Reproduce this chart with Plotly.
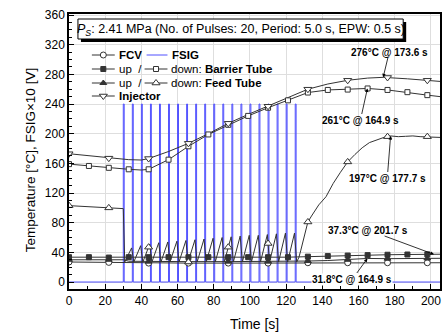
import plotly.graph_objects as go

FONT = "Liberation Sans, Arial, sans-serif"
LINE = "#333333"
BLUE = "#5050ff"

# ---------------- data ----------------
PULSE_TIMES = [30, 35, 40, 45, 50, 55, 60, 65, 70, 75, 80, 85, 90, 95, 100, 105, 110, 115, 120, 125]
PULSE_HIGH = 240          # FSIG x10
PULSE_WIDTH = 0.5
T_END = 205

fcv_t = [0, 22, 30, 44, 66, 88, 110, 132, 154, 176, 198, 205]
fcv_v = [27, 26.5, 26.5, 25.5, 25.5, 25.5, 25.5, 26, 26, 26, 26, 26]
fcv_mt = [0, 22, 44, 66, 88, 110, 132, 154, 176, 198]
fcv_mv = [27, 26.5, 25.5, 25.5, 25.5, 25.5, 26, 26, 26, 26]

bu_t = [0, 11, 22, 33, 44, 55, 66, 77, 88, 99, 110, 121, 132, 143, 154, 165, 176, 187, 198, 205]
bu_v = [33.5, 33.5, 33, 33.5, 33.5, 33.5, 33.5, 33.5, 33.5, 33.5, 33.5, 33.5, 34.2, 35, 35.7, 36.3, 36.8, 37.1, 37.3, 37.5]

bd_t = [0, 11, 22, 33, 40, 44, 55, 66, 77, 88, 99, 110, 121, 132, 143, 154, 165, 176, 187, 198, 205]
bd_v = [159, 156.5, 154, 152, 151, 152, 165, 183, 199, 212, 224, 235, 245, 255.5, 259, 259.5, 261, 259, 256, 252, 250]
bd_mt = [0, 11, 22, 33, 44, 55, 66, 77, 88, 99, 110, 121, 132, 143, 154, 165, 176, 187, 198]
bd_mv = [159, 156.5, 154, 152, 152, 165, 183, 199, 212, 224, 235, 245, 255.5, 259, 259.5, 261, 259, 256, 252]

fu_t = [0, 22, 30, 33, 44, 66, 88, 110, 125, 132, 143, 154, 165, 176, 187, 198, 205]
fu_v = [30, 30, 30, 28, 27.5, 27.5, 27.5, 27.5, 27.5, 28.3, 29, 30, 31.8, 31.5, 31.5, 31.8, 32]
fu_mt = [0, 22, 44, 66, 88, 110, 132, 154, 176, 198]
fu_mv = [30, 30, 27.5, 27.5, 27.5, 27.5, 28.3, 30, 31.5, 31.8]

inj_t = [0, 11, 22, 33, 40, 44, 55, 66, 77, 88, 99, 110, 121, 132, 143, 154, 165, 173.6, 187, 198, 205]
inj_v = [173, 170, 167, 165, 164.5, 166.5, 176, 187, 200, 214, 226, 237, 249, 260, 267, 272, 275, 276, 274, 272, 270.5]
inj_mt = [0, 22, 44, 66, 88, 110, 132, 154, 176, 198]
inj_mv = [173, 167, 166.5, 187, 214, 237, 260, 272, 275.8, 272]

# feed tube (down): before pulses, sawtooth peaks between pulses, recovery after
fd_pre_t = [0, 11, 22, 30]
fd_pre_v = [103, 101.5, 100, 99]
FD_TROUGH = 27
fd_peaks = [46, 49, 51, 53, 54, 55, 56, 57, 58, 59, 60, 61, 62, 63, 63, 64, 65, 66, 66]
fd_post_t = [127, 128, 129, 130, 131, 132, 134, 136, 138, 142, 146, 150, 154, 158, 162, 166, 170, 174, 177.7, 182, 186, 190, 194, 198, 202, 205]
fd_post_v = [33, 42, 52, 63, 73, 81, 89, 97, 104, 115, 133, 148, 162, 172, 181, 188, 192, 195, 197, 196, 196.5, 197, 196, 196, 195.5, 195]
fd_mt = [0, 22, 44, 66, 88, 110, 132, 154, 176, 198]
fd_mv = [103, 100, 47, 27, 47, 52, 81, 162, 196, 196]

# ---------------- geometry ----------------
W, H = 443, 332
ML, MR, MT, MB = 69, 1, 14, 43
XR = [0, 205]
YR = [-9.4, 361.4]
PW, PH = W - ML - MR, H - MT - MB


def px_x(px):
    return XR[0] + (px - ML) / PW * (XR[1] - XR[0])


def px_y(py):
    return YR[0] + (MT + PH - py) / PH * (YR[1] - YR[0])


def paper_x(px):
    return (px - ML) / PW


def paper_y(py):
    return (MT + PH - py) / PH


# ---------------- build paths ----------------
fsig_x, fsig_y = [0], [0]
for t in PULSE_TIMES:
    fsig_x += [t, t, t + PULSE_WIDTH, t + PULSE_WIDTH]
    fsig_y += [0, PULSE_HIGH, PULSE_HIGH, 0]
fsig_x.append(T_END)
fsig_y.append(0)

fd_t = list(fd_pre_t)
fd_v = list(fd_pre_v)
for i, t in enumerate(PULSE_TIMES):
    fd_t.append(t + 0.8)
    fd_v.append(FD_TROUGH)
    if i < len(fd_peaks):
        fd_t.append(t + 4.6)
        fd_v.append(fd_peaks[i])
fd_t += fd_post_t
fd_v += fd_post_v

fig = go.Figure()


def line(x, y):
    fig.add_trace(go.Scatter(x=x, y=y, mode="lines", line=dict(color=LINE, width=1),
                             showlegend=False, hoverinfo="skip"))


def marks(x, y, symbol, filled, size=6):
    fig.add_trace(go.Scatter(x=x, y=y, mode="markers", showlegend=False, hoverinfo="skip",
                             marker=dict(symbol=symbol, size=size,
                                         color=LINE if filled else "white",
                                         line=dict(color=LINE, width=1))))


fig.add_trace(go.Scatter(x=fsig_x, y=fsig_y, mode="lines", line=dict(color=BLUE, width=1),
                         showlegend=False, hoverinfo="skip"))
line(fcv_t, fcv_v)
line(bu_t, bu_v)
line(fu_t, fu_v)
line(fd_t, fd_v)
line(bd_t, bd_v)
line(inj_t, inj_v)
marks(fcv_mt, fcv_mv, "circle", False, 6)
marks(fu_mt, fu_mv, "triangle-up", True, 6)
marks(bu_t[:-1], bu_v[:-1], "square", True, 5)
marks(fd_mt, fd_mv, "triangle-up", False, 7)
marks(bd_mt, bd_mv, "square", False, 5)
marks(inj_mt, inj_mv, "triangle-down", False, 7)

# ---------------- legend (pixel overlay axes) ----------------
def leg_sample(x0, x1, y, symbol=None, filled=False, color=LINE, size=6):
    xm = (x0 + x1) / 2
    fig.add_trace(go.Scatter(x=[x0, x1], y=[y, y], mode="lines", xaxis="x2", yaxis="y2",
                             line=dict(color=color, width=1),
                             showlegend=False, hoverinfo="skip"))
    if symbol:
        fig.add_trace(go.Scatter(x=[xm], y=[y], mode="markers", xaxis="x2", yaxis="y2",
                                 marker=dict(symbol=symbol, size=size,
                                             color=LINE if filled else "white",
                                             line=dict(color=LINE, width=1)),
                                 showlegend=False, hoverinfo="skip"))


def leg_text(x, y, text):
    fig.add_annotation(x=x, y=y, xref="x2", yref="y2", text=text, showarrow=False,
                       xanchor="left", yanchor="middle", font=dict(size=11.5, color="black", family=FONT))


rows = [55, 69, 83, 96]
leg_sample(92, 115, rows[0], "circle", False, size=6)
leg_text(117, rows[0], "<b>FCV</b>")
leg_sample(147, 168, rows[0], None, color=BLUE)
leg_text(171, rows[0], "<b>FSIG</b>")
leg_sample(92, 115, rows[1], "square", True, size=5)
leg_text(117, rows[1], "up  /")
leg_sample(145, 168, rows[1], "square", False, size=5)
leg_text(170, rows[1], "down: <b>Barrier Tube</b>")
leg_sample(92, 115, rows[2], "triangle-up", True, size=6)
leg_text(117, rows[2], "up  /")
leg_sample(145, 168, rows[2], "triangle-up", False, size=7)
leg_text(170, rows[2], "down: <b>Feed Tube</b>")
leg_sample(92, 115, rows[3], "triangle-down", False, size=7)
leg_text(117, rows[3], "<b>Injector</b>")

# title box with shadow
fig.add_shape(type="rect", xref="x2", yref="y2", x0=81, x1=408, y0=22, y1=42,
              fillcolor="black", line=dict(width=0), layer="above")
fig.add_shape(type="rect", xref="x2", yref="y2", x0=78, x1=405, y0=19, y1=39,
              fillcolor="white", line=dict(color="black", width=1), layer="above")
fig.add_annotation(x=241.5, y=29.5, xref="x2", yref="y2", showarrow=False,
                   text="<i>P</i><sub><i>S</i></sub>: 2.41 MPa (No. of Pulses: 20, Period: 5.0 s, EPW: 0.5 s)",
                   font=dict(size=12.5, color="black", family=FONT), xanchor="center", yanchor="middle")

# axis titles (paper coords)
fig.add_annotation(x=paper_x(255.5), y=paper_y(324), xref="paper", yref="paper", text="Time [s]",
                   showarrow=False, xanchor="center", yanchor="middle",
                   font=dict(size=14, color="black", family=FONT))
fig.add_annotation(x=paper_x(30), y=paper_y(160), xref="paper", yref="paper",
                   text="Temperature [°C], FSIG×10 [V]",
                   showarrow=False, textangle=-90, xanchor="center", yanchor="middle",
                   font=dict(size=13.5, color="black", family=FONT))

# ---------------- callouts (text centre given in pixels) ----------------
def callout(x, y, text, tx, ty, bg=None):
    fig.add_annotation(x=x, y=y, xref="x", yref="y", text="<b>" + text + "</b>",
                       showarrow=True, axref="x", ayref="y", ax=px_x(tx), ay=px_y(ty),
                       arrowhead=2, arrowsize=0.9, arrowwidth=0.8,
                       arrowcolor="black", font=dict(size=10, color="black", family=FONT),
                       bgcolor=bg, borderpad=0)


callout(173.6, 276, "276°C @ 173.6 s", 391, 52)
callout(164.9, 261, "261°C @ 164.9 s", 362, 120)
callout(177.7, 197, "197°C @ 177.7 s", 389, 178)
callout(201.7, 37.3, "37.3°C @ 201.7 s", 370, 230)
callout(164.9, 31.8, "31.8°C @ 164.9 s", 354, 279, bg="white")

axis_common = dict(showline=True, linecolor="black", linewidth=1.5, mirror=True,
                   ticks="inside", ticklen=5, tickwidth=1, tickcolor="black",
                   showgrid=True, gridcolor="#dedede", gridwidth=1, zeroline=False,
                   tickfont=dict(size=12, color="black", family=FONT))

fig.update_layout(
    width=W, height=H,
    margin=dict(l=ML, r=MR, t=MT, b=MB),
    paper_bgcolor="white", plot_bgcolor="white",
    font=dict(family=FONT, color="black"),
    xaxis=dict(range=XR, dtick=20, tick0=0,
               minor=dict(ticks="inside", ticklen=3, dtick=10, tickcolor="black", showgrid=False),
               **axis_common),
    yaxis=dict(range=YR, dtick=40, tick0=0,
               minor=dict(ticks="inside", ticklen=3, dtick=10, tickcolor="black", showgrid=False),
               **axis_common),
    xaxis2=dict(overlaying="x", range=[ML, W - MR], visible=False, fixedrange=True),
    yaxis2=dict(overlaying="y", range=[MT + PH, MT], visible=False, fixedrange=True),
)

fig.write_html("out.html")
